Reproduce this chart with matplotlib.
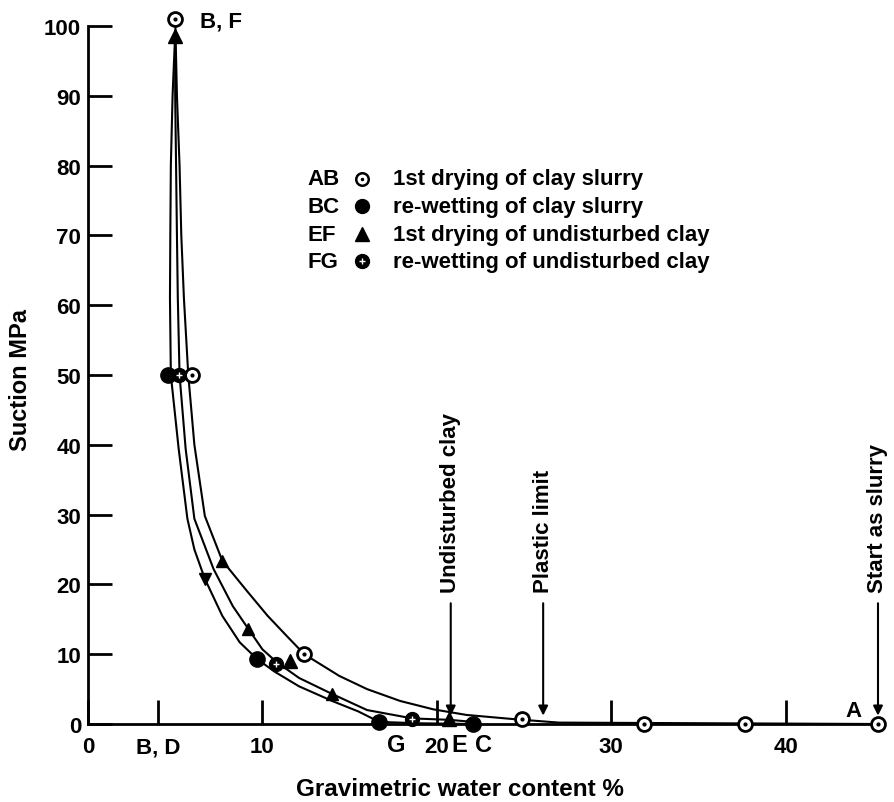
import matplotlib
matplotlib.use("Agg")
from matplotlib import pyplot as plt

plt.rcParams['font.family'] = ['Liberation Sans', 'DejaVu Sans']
plt.rcParams['font.weight'] = 'bold'

# measured points, (water content %, suction MPa)
ab_x = [5.0, 5.95, 12.4, 24.9, 31.9, 37.7, 45.3]  # 1st drying of clay slurry
ab_y = [101, 50, 10.0, 0.7, 0, 0, 0]
bc_x = [4.6, 9.7, 16.7, 22.1]                     # re-wetting of clay slurry
bc_y = [50, 9.3, 0.3, 0]
ef_x = [5.0, 11.6, 20.7]                          # 1st drying of undisturbed clay
ef_y = [98.5, 9.0, 0.7]
fg_x = [5.2, 10.8, 18.6]                          # re-wetting of undisturbed clay
fg_y = [50, 8.6, 0.7]

# curves
outer_x = [5.0, 5.1, 5.25, 5.35, 5.5, 5.75, 6.1, 6.7, 7.7, 9.1, 10.3, 11.4, 12.4, 14.4, 16.0, 17.9, 19.8, 21.7, 24.4, 27.0, 45.3]
outer_y = [101, 90, 80, 70, 61, 50, 40.0, 29.8, 23.4, 19.1, 15.5, 12.6, 10.0, 6.9, 5.0, 3.3, 2.1, 1.3, 0.7, 0.2, 0]
middle_x = [5.0, 5.0, 5.05, 5.1, 5.15, 5.25, 5.6, 6.1, 7.2, 8.3, 9.2, 10.0, 10.8, 12.1, 14.0, 16.0, 18.6, 20.7, 22.1]
middle_y = [99, 90, 80, 70, 61, 50, 39.4, 29.4, 22.2, 16.9, 13.6, 10.7, 8.9, 6.6, 4.3, 2.0, 0.8, 0.6, 0.3]
inner_x = [5.0, 4.85, 4.75, 4.72, 4.7, 4.75, 5.2, 5.7, 6.1, 6.7, 7.7, 8.7, 9.7, 10.7, 12.1, 14.0, 15.5, 16.7, 19.0, 22.1]
inner_y = [99, 90, 80, 70, 61, 50, 39.4, 29.4, 25.0, 20.8, 15.5, 11.7, 9.3, 7.5, 5.4, 3.3, 1.8, 0.3, 0.1, 0]

# direction arrows on the curves
up_x = [7.7, 9.2, 14.0]
up_y = [23.4, 13.6, 4.3]
down_x = [6.7]
down_y = [20.8]

xticks = [0, 4, 10, 20, 30, 40]
xticklabels = ['0', 'B, D', '10', '20', '30', '40']
yticks = list(range(0, 101, 10))

point_labels = ['G', 'E', 'C']
point_label_x = [17.7, 21.3, 22.7]

limit_labels = ['Undisturbed clay', 'Plastic limit', 'Start as slurry']
limit_x = [20.8, 26.1, 45.3]

legend_codes = ['AB', 'BC', 'EF', 'FG']
legend_texts = ['1st drying of clay slurry', 're-wetting of clay slurry',
                '1st drying of undisturbed clay', 're-wetting of undisturbed clay']

fs = 16

fig = plt.figure(figsize=(8.95, 8.03), dpi=100, facecolor='white')
ax = fig.add_axes([88 / 895, 1 - 725 / 803, 790 / 895, 698 / 803])
ax.set_xlim(0, 45.3)
ax.set_ylim(0, 100)

for s in ['top', 'right']:
    ax.spines[s].set_visible(False)
for s in ['left', 'bottom']:
    ax.spines[s].set_linewidth(2.0)

lw = 1.5
ax.plot(outer_x, outer_y, color='black', lw=lw, clip_on=False, zorder=2)
ax.plot(middle_x, middle_y, color='black', lw=lw, clip_on=False, zorder=2)
ax.plot(inner_x, inner_y, color='black', lw=lw, clip_on=False, zorder=2)

ax.plot(up_x, up_y, '^', color='black', ms=8, clip_on=False, zorder=3)
ax.plot(down_x, down_y, 'v', color='black', ms=8, clip_on=False, zorder=3)

ms = 10
ax.plot(bc_x, bc_y, 'o', color='black', ms=ms + 1, clip_on=False, zorder=4)
ax.plot(fg_x, fg_y, 'o', color='black', ms=ms, clip_on=False, zorder=4)
ax.plot(fg_x, fg_y, '+', color='white', ms=5, mew=1, clip_on=False, zorder=5)
ax.plot(ef_x, ef_y, '^', color='black', ms=ms, clip_on=False, zorder=4)
ax.plot(ab_x, ab_y, 'o', mfc='white', mec='black', mew=2, ms=ms, clip_on=False, zorder=6)
ax.plot(ab_x, ab_y, '.', color='black', ms=4, clip_on=False, zorder=7)

ax.set_xticks(xticks)
ax.set_xticklabels(xticklabels)
ax.set_yticks(yticks)
ax.tick_params(direction='in', length=17, width=2, labelsize=fs)
ax.tick_params(axis='x', pad=9)
ax.tick_params(axis='y', pad=5)

for lab, x in zip(point_labels, point_label_x):
    ax.text(x, -3.0, lab, fontsize=fs + 1, ha='center', va='center', clip_on=False)

ax.text(6.4, 100.7, 'B, F', fontsize=fs, ha='left', va='center', clip_on=False)
ax.text(43.9, 2.0, 'A', fontsize=fs, ha='center', va='center')

for lab, x in zip(limit_labels, limit_x):
    ax.annotate('', xy=(x, 1.2), xytext=(x, 17.3),
                arrowprops=dict(arrowstyle='-|>', color='black', lw=1.5,
                                mutation_scale=14, shrinkA=0, shrinkB=0),
                annotation_clip=False)
    ax.text(x, 18.9, lab, fontsize=fs, rotation=90, ha='center', va='bottom', clip_on=False)

# legend
rows = [0.781, 0.742, 0.702, 0.663]
ax.plot([0.347], [rows[0]], 'o', transform=ax.transAxes, mfc='white', mec='black', mew=1.8, ms=9, clip_on=False)
ax.plot([0.347], [rows[0]], '.', transform=ax.transAxes, color='black', ms=3, clip_on=False)
ax.plot([0.347], [rows[1]], 'o', transform=ax.transAxes, color='black', ms=10, clip_on=False)
ax.plot([0.347], [rows[2]], '^', transform=ax.transAxes, color='black', ms=10, clip_on=False)
ax.plot([0.347], [rows[3]], 'o', transform=ax.transAxes, color='black', ms=10, clip_on=False)
ax.plot([0.347], [rows[3]], '+', transform=ax.transAxes, color='white', ms=4, mew=1, clip_on=False)
for code, txt, r in zip(legend_codes, legend_texts, rows):
    ax.text(0.278, r, code, transform=ax.transAxes, fontsize=fs, ha='left', va='center')
    ax.text(0.386, r, txt, transform=ax.transAxes, fontsize=fs, ha='left', va='center')

ax.set_xlabel('Gravimetric water content %', fontsize=17.5, fontweight='bold', va='center')
ax.set_ylabel('Suction MPa', fontsize=17, fontweight='bold', va='center')
ax.xaxis.set_label_coords(0.471, -0.093)
ax.yaxis.set_label_coords(-0.086, 0.494)

fig.savefig('out.png', dpi=100, facecolor='white')
